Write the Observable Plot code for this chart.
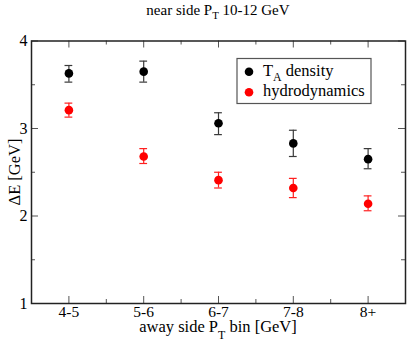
<!DOCTYPE html>
<html>
<head>
<meta charset="utf-8">
<script src="https://cdn.jsdelivr.net/npm/d3@7"></script>
<script src="https://cdn.jsdelivr.net/npm/@observablehq/plot@0.6"></script>
<style>
  html, body { margin: 0; padding: 0; background: #fff; }
  #chart svg { display: block; }
</style>
</head>
<body>
<div id="chart"></div>
<script>
const categories = ["4-5", "5-6", "6-7", "7-8", "8+"];
const seriesNames = ["density", "hydrodynamics"];
const seriesColors = ["#000000", "#ff0000"];
const barColors = ["#3a3a3a", "#ff2020"];
const taDensity = [3.63, 3.65, 3.06, 2.83, 2.65];
const taLow = [3.53, 3.53, 2.93, 2.68, 2.54];
const taHigh = [3.72, 3.77, 3.18, 2.98, 2.77];
const hydro = [3.21, 2.68, 2.41, 2.32, 2.14];
const hydroLow = [3.13, 2.60, 2.32, 2.21, 2.06];
const hydroHigh = [3.29, 2.77, 2.50, 2.43, 2.23];
const yTicks = [1, 2, 3, 4];
const yMinor = [1.5, 2.5, 3.5];

const data = [];
categories.forEach((c, i) => {
  data.push({i: i + 1, s: 0, v: taDensity[i], lo: taLow[i], hi: taHigh[i]});
  data.push({i: i + 1, s: 1, v: hydro[i], lo: hydroLow[i], hi: hydroHigh[i]});
});
const xTicks = categories.map((c, i) => i + 1);
const xMinor = categories.slice(1).map((c, i) => i + 1.5);
const capHalf = 0.052;
const font = "Liberation Serif, Times New Roman, serif";

const W = 409, Hh = 342, mL = 31, mR = 4, mT = 40.5, mB = 39;
const fw = W - mL - mR, fh = Hh - mT - mB;
const major = 7, minor = 4;
const tickColor = "#555";

const plot = Plot.plot({
  width: W,
  height: Hh,
  marginLeft: mL,
  marginRight: mR,
  marginTop: mT,
  marginBottom: mB,
  style: {fontFamily: font, fontSize: "16px", color: "#000", background: "#fff"},
  x: {domain: [0.5, 5.5]},
  y: {domain: [1, 4]},
  marks: [
    Plot.axisX({anchor: "bottom", ticks: xTicks, tickSize: 0, tickPadding: 2.5, tickFormat: d => categories[d - 1], label: null, fontSize: 15.5}),
    Plot.axisY({anchor: "left", ticks: yTicks, tickSize: 0, tickPadding: 4, tickFormat: d => String(d), label: null, fontSize: 16}),
    // inward ticks on all four sides
    Plot.ruleX(xTicks, {x: d => d, insetTop: fh - major, stroke: tickColor}),
    Plot.ruleX(xMinor, {x: d => d, insetTop: fh - minor, stroke: tickColor}),
    Plot.ruleX(xTicks, {x: d => d, insetBottom: fh - major, stroke: tickColor}),
    Plot.ruleX(xMinor, {x: d => d, insetBottom: fh - minor, stroke: tickColor}),
    Plot.ruleY(yTicks, {y: d => d, insetRight: fw - major, stroke: tickColor}),
    Plot.ruleY(yMinor, {y: d => d, insetRight: fw - minor, stroke: tickColor}),
    Plot.ruleY(yTicks, {y: d => d, insetLeft: fw - major, stroke: tickColor}),
    Plot.ruleY(yMinor, {y: d => d, insetLeft: fw - minor, stroke: tickColor}),
    Plot.frame({stroke: "#222", strokeWidth: 1.5}),
    Plot.ruleX(data, {x: "i", y1: "lo", y2: "hi", stroke: d => barColors[d.s], strokeWidth: 1.2}),
    Plot.ruleY(data, {y: "lo", x1: d => d.i - capHalf, x2: d => d.i + capHalf, stroke: d => barColors[d.s], strokeWidth: 1.2}),
    Plot.ruleY(data, {y: "hi", x1: d => d.i - capHalf, x2: d => d.i + capHalf, stroke: d => barColors[d.s], strokeWidth: 1.2}),
    Plot.dot(data, {x: "i", y: "v", r: 4.3, fill: d => seriesColors[d.s], stroke: "none"})
  ]
});
document.getElementById("chart").appendChild(plot);

const svg = d3.select(plot);
function subText(sel, pre, sub, post, shift) {
  sel.append("tspan").text(pre);
  sel.append("tspan").attr("font-size", "0.72em").attr("dy", shift).text(sub);
  sel.append("tspan").attr("dy", -shift).text(post);
}
// title
subText(svg.append("text").attr("x", 218).attr("y", 15).attr("text-anchor", "middle")
  .attr("font-family", font).attr("font-size", 15).attr("fill", "#000"), "near side P", "T", " 10-12 GeV", 4);
// x label
subText(svg.append("text").attr("x", 218).attr("y", 332.3).attr("text-anchor", "middle")
  .attr("font-family", font).attr("font-size", 16.5).attr("fill", "#000"), "away side P", "T", " bin [GeV]", 7);
// y label
svg.append("text").attr("transform", "translate(20,172) rotate(-90)").attr("text-anchor", "middle")
  .attr("font-family", font).attr("font-size", 16.5).attr("fill", "#000").text("\u0394E [GeV]");

// legend
const lg = svg.append("g");
lg.append("rect").attr("x", 237).attr("y", 58.5).attr("width", 134).attr("height", 45)
  .attr("fill", "#fff").attr("stroke", "#555").attr("stroke-width", 1.2);
seriesNames.forEach((n, k) => {
  const yy = 71.7 + k * 20.6;
  lg.append("circle").attr("cx", 249).attr("cy", yy).attr("r", 4.3).attr("fill", seriesColors[k]);
  const t = lg.append("text").attr("x", 263).attr("y", yy + 4).attr("text-anchor", "start")
    .attr("font-family", font).attr("font-size", 16.5).attr("fill", "#000");
  if (k === 0) subText(t, "T", "A", " " + n, 5);
  else t.text(n);
});
</script>
</body>
</html>
